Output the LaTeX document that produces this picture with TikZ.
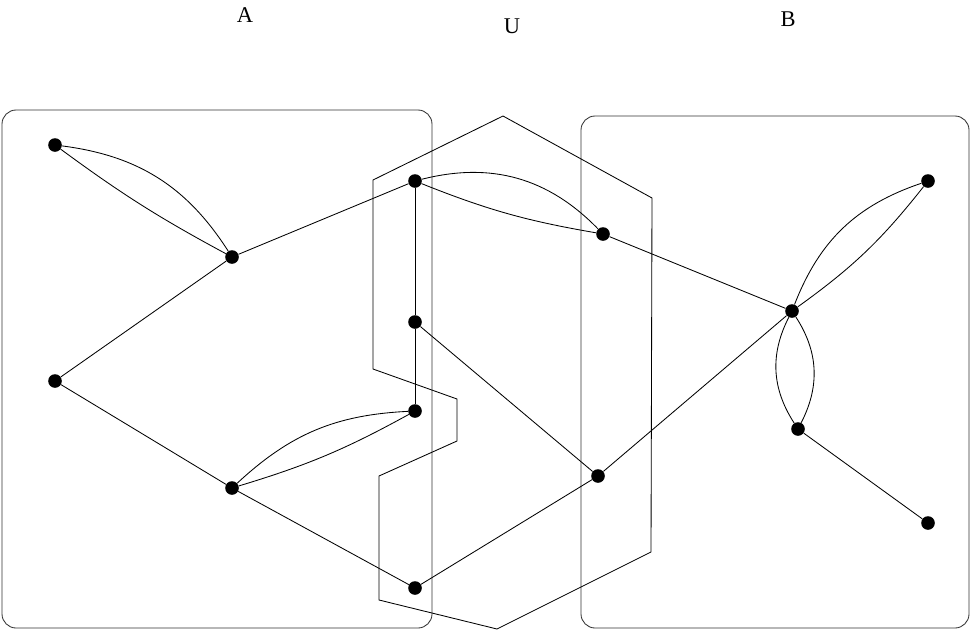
\documentclass[tikz,border=0pt]{standalone}
\usepackage{fontspec}
\setmainfont{Liberation Serif}
\begin{document}
\begin{tikzpicture}[
    x=0.025cm,
    y=-0.025cm,
    vertex/.style={
        circle,
        fill=black,
        inner sep=0pt,
        minimum size=0.34cm
    },
    setbox/.style={
        draw=black!80,
        line width=0.6pt,
        rounded corners=10pt
    },
    edge/.style={
        line width=0.6pt
    },
    setlabel/.style={
        font=\fontsize{16}{18}\selectfont
    }
]
\useasboundingbox (0,0) rectangle (973,632);

% Set boxes
\draw[setbox] (2,110) rectangle (432,628);
\draw[setbox] (581,116) rectangle (969,628);

% Separator polygon
\draw[edge] (373,180) -- (503,116) -- (652,198) -- (651,552) -- (497,629)
    -- (379,600) -- (379,476) -- (457,441) -- (457,399) -- (373,369) -- cycle;

% Labels
\node[setlabel] (labA) at (245,15) {A};
\node[setlabel] (labU) at (512,26) {U};
\node[setlabel] (labB) at (788,19) {B};

% Vertices in A
\node[vertex] (a1) at (55,145) {};
\node[vertex] (a2) at (232,257) {};
\node[vertex] (a3) at (55,381) {};
\node[vertex] (a4) at (232,488) {};

% Vertices in U
\node[vertex] (u1) at (415,181) {};
\node[vertex] (u2) at (415,322) {};
\node[vertex] (u3) at (415,411) {};
\node[vertex] (u4) at (415,588) {};
\node[vertex] (v1) at (603,234) {};
\node[vertex] (v2) at (598,476) {};

% Vertices in B
\node[vertex] (b1) at (792,311) {};
\node[vertex] (b2) at (928,181) {};
\node[vertex] (b3) at (798,429) {};
\node[vertex] (b4) at (928,523) {};

% Edges
\draw[edge] (a1) to[bend right=4] (a2);
\draw[edge] (a1) to[bend left=25] (a2);
\draw[edge] (a2) -- (a3);
\draw[edge] (a2) -- (u1);
\draw[edge] (a3) -- (a4);
\draw[edge] (a4) to[bend right=6] (u3);
\draw[edge] (a4) to[bend left=20] (u3);
\draw[edge] (a4) -- (u4);
\draw[edge] (u1) -- (u2);
\draw[edge] (u2) -- (u3);
\draw[edge] (u1) to[bend right=6] (v1);
\draw[edge] (u1) to[bend left=30] (v1);
\draw[edge] (u2) -- (v2);
\draw[edge] (u4) -- (v2);
\draw[edge] (v1) -- (b1);
\draw[edge] (v2) -- (b1);
\draw[edge] (b1) to[bend left=25] (b2);
\draw[edge] (b1) to[bend right=8] (b2);
\draw[edge] (b1) to[bend left=30] (b3);
\draw[edge] (b1) to[bend right=30] (b3);
\draw[edge] (b3) -- (b4);

\end{tikzpicture}
\end{document}
